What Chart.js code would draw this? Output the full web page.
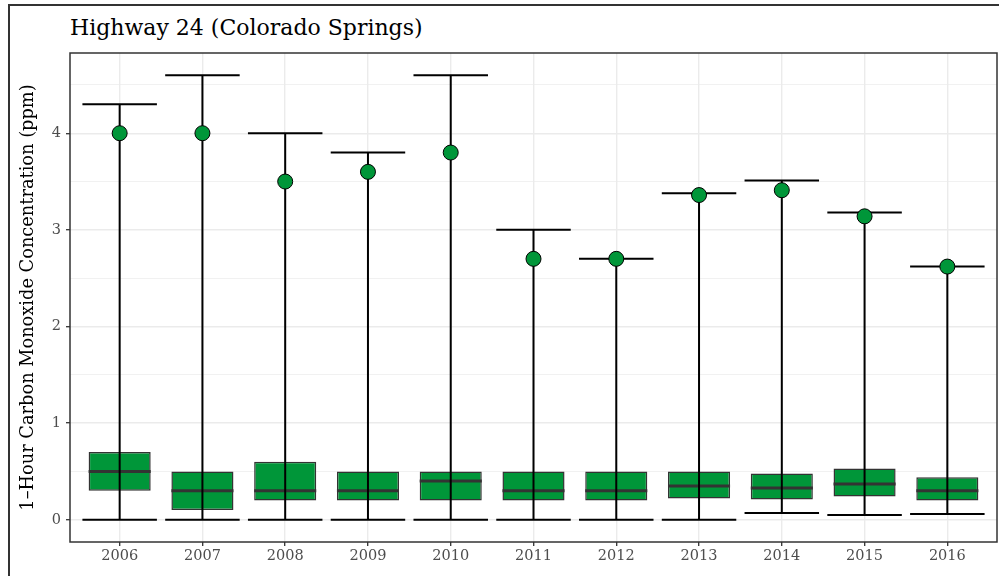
<!DOCTYPE html>
<html lang="en">
<head>
  <meta charset="UTF-8">
  <title>Highway 24 (Colorado Springs)</title>
  <script src="https://cdn.jsdelivr.net/npm/chart.js"></script>
  <style>
    body { margin: 0; background: #fff; }
    #wrap { position: relative; width: 999px; height: 576px; overflow: hidden; }
    #frame {
      position: absolute; left: 8px; top: 4px; width: 1200px; height: 800px;
      border-left: 2px solid #333; border-top: 2px solid #333;
    }
    #title {
      position: absolute; left: 70px; top: 17px;
      font-family: "DejaVu Serif", serif; font-size: 22px; line-height: 1;
      color: #000; white-space: nowrap;
    }
    canvas { position: absolute; left: 0; top: 0; }
  </style>
</head>
<body>
  <div id="wrap">
    <div id="frame"></div>
    <div id="title">Highway 24 (Colorado Springs)</div>
    <canvas id="coChart" width="999" height="576"></canvas>
  </div>

  <script>
    const years = ['2006', '2007', '2008', '2009', '2010', '2011', '2012', '2013', '2014', '2015', '2016'];
    const lowVals = [0, 0, 0, 0, 0, 0, 0, 0, 0.07, 0.05, 0.06];
    const highVals = [4.3, 4.6, 4.0, 3.8, 4.6, 3.0, 2.7, 3.38, 3.51, 3.18, 2.62];
    const q1Vals = [0.3, 0.1, 0.2, 0.2, 0.2, 0.2, 0.2, 0.22, 0.21, 0.24, 0.2];
    const medianVals = [0.5, 0.3, 0.3, 0.3, 0.4, 0.3, 0.3, 0.35, 0.33, 0.37, 0.3];
    const q3Vals = [0.7, 0.5, 0.6, 0.5, 0.5, 0.5, 0.5, 0.5, 0.48, 0.53, 0.44];
    const pointVals = [4.0, 4.0, 3.5, 3.6, 3.8, 2.7, 2.7, 3.36, 3.41, 3.14, 2.62];
    const yTickVals = [0, 0.5, 1, 1.5, 2, 2.5, 3, 3.5, 4, 4.5];

    const green = '#009639';
    const tickFont = { family: 'DejaVu Serif', size: 14.5 };

    // medians, min-max lines with caps, and the panel border
    const boxExtras = {
      id: 'boxExtras',
      afterDatasetDraw(chart, args) {
        if (args.index !== 1) return;
        const { ctx, scales: { x, y } } = chart;
        const step = x.getPixelForValue(1) - x.getPixelForValue(0);
        const capHalf = step * 0.45;
        ctx.save();
        years.forEach((yr, i) => {
          const bar = args.meta.data[i];
          const cx = x.getPixelForValue(i);
          const ym = y.getPixelForValue(medianVals[i]);
          ctx.strokeStyle = '#333';
          ctx.lineWidth = 3;
          ctx.beginPath();
          ctx.moveTo(bar.x - bar.width / 2, ym);
          ctx.lineTo(bar.x + bar.width / 2, ym);
          ctx.stroke();

          const yLo = y.getPixelForValue(lowVals[i]);
          const yHi = y.getPixelForValue(highVals[i]);
          ctx.strokeStyle = '#000';
          ctx.lineWidth = 2;
          ctx.beginPath();
          ctx.moveTo(cx, yLo);
          ctx.lineTo(cx, yHi);
          ctx.moveTo(cx - capHalf, yLo);
          ctx.lineTo(cx + capHalf, yLo);
          ctx.moveTo(cx - capHalf, yHi);
          ctx.lineTo(cx + capHalf, yHi);
          ctx.stroke();
        });
        ctx.restore();
      },
      afterDraw(chart) {
        const { ctx, chartArea: a } = chart;
        ctx.save();
        ctx.strokeStyle = '#333';
        ctx.lineWidth = 1.5;
        ctx.strokeRect(a.left, a.top, a.right - a.left, a.bottom - a.top);
        ctx.restore();
      }
    };

    new Chart(document.getElementById('coChart'), {
      type: 'bar',
      data: {
        datasets: [
          {
            type: 'scatter',
            order: 0,
            data: pointVals.map((v, i) => ({ x: i, y: v })),
            pointRadius: 7.5,
            pointBackgroundColor: green,
            pointBorderColor: '#000',
            pointBorderWidth: 1,
            showLine: false
          },
          {
            type: 'bar',
            order: 1,
            data: years.map((yr, i) => ({ x: i, y: [q1Vals[i], q3Vals[i]] })),
            backgroundColor: green,
            borderColor: '#333',
            borderWidth: 1.5,
            borderSkipped: false,
            categoryPercentage: 1,
            barPercentage: 0.75
          }
        ]
      },
      options: {
        responsive: false,
        animation: false,
        layout: { autoPadding: false, padding: { top: 53, right: 2, bottom: 0, left: 0 } },
        plugins: {
          legend: { display: false },
          tooltip: { enabled: false }
        },
        scales: {
          x: {
            type: 'linear',
            min: -0.6,
            max: 10.6,
            offset: false,
            afterBuildTicks: s => { s.ticks = years.map((yr, i) => ({ value: i })); },
            afterFit: s => { s.height = 34; s.paddingLeft = 0; s.paddingRight = 0; },
            border: { display: false },
            grid: { offset: false, color: '#ebebeb', lineWidth: 1.4, tickLength: 4, tickColor: '#333', tickWidth: 1.3 },
            ticks: { callback: v => years[v], color: '#4d4d4d', font: tickFont, padding: 2, maxRotation: 0 }
          },
          y: {
            min: -0.23,
            max: 4.83,
            afterBuildTicks: s => { s.ticks = yTickVals.map(v => ({ value: v })); },
            afterFit: s => { s.width = 70; },
            border: { display: false },
            grid: {
              color: '#ebebeb',
              lineWidth: c => Number.isInteger(c.tick.value) ? 1.4 : 0.7,
              tickLength: 4,
              tickColor: c => Number.isInteger(c.tick.value) ? '#333' : 'rgba(0,0,0,0)',
              tickWidth: 1.3
            },
            ticks: {
              callback: v => Number.isInteger(v) ? String(v) : '',
              color: '#4d4d4d', font: tickFont, padding: 5
            },
            title: {
              display: true,
              text: '1–Hour Carbon Monoxide Concentration (ppm)',
              color: '#000',
              font: { family: 'DejaVu Serif', size: 17.8 },
              padding: { top: 18, bottom: 0 }
            }
          }
        }
      },
      plugins: [boxExtras]
    });
  </script>
</body>
</html>
